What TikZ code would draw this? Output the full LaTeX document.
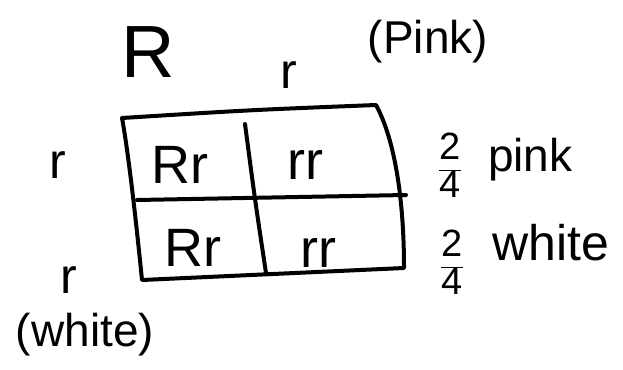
\documentclass[tikz,border=0pt]{standalone}
\usepackage{fontspec}
\setmainfont{Liberation Sans}
\tikzset{
  gridline/.style={line width=4pt, line cap=round, line join=round},
  bigallele/.style={font=\fontsize{74}{74}\selectfont, inner sep=0pt},
  allele/.style={font=\fontsize{50}{50}\selectfont, inner sep=0pt},
  cell/.style={font=\fontsize{54}{54}\selectfont, inner sep=0pt},
  note/.style={font=\fontsize{46}{46}\selectfont, inner sep=0pt},
  ratio/.style={font=\fontsize{38}{38}\selectfont, inner sep=0pt},
}
\begin{document}
\begin{tikzpicture}[x=1pt,y=-1pt]
  \useasboundingbox (0,0) rectangle (623,369);
  % square corners and divider ends
  \coordinate (tl) at (122,118);
  \coordinate (tr) at (376,105);
  \coordinate (br) at (404,268);
  \coordinate (bl) at (142,280);
  \coordinate (ml) at (137,200);
  \coordinate (mr) at (406,195);
  \coordinate (mt) at (245,124);
  \coordinate (mb) at (266,273);
  \draw[gridline] (tl) .. controls (250,110) .. (tr)
    .. controls (395,140) and (404,200) .. (br) -- (bl)
    .. controls (136,220) and (128,150) .. (tl);
  \draw[gridline] (ml) -- (mr);
  \draw[gridline] (mt) .. controls (255,200) .. (mb);
  % parent alleles
  \node[bigallele] (R1) at (148,52) {R};
  \node[allele] (r1) at (289,75) {r};
  \node[note] (pink1) at (428,42) {(Pink)};
  \node[allele] (r2) at (58,165) {r};
  \node[allele] (r3) at (69,280) {r};
  \node[note] (white1) at (85,335) {(white)};
  % offspring
  \node[cell] (c11) at (180,165) {Rr};
  \node[cell] (c12) at (305,165) {rr};
  \node[cell] (c21) at (193,248) {Rr};
  \node[cell] (c22) at (318,253) {rr};
  % ratios
  \node[ratio] (f1) at (450,165) {\(\displaystyle\frac{\mbox{2}}{\mbox{4}}\)};
  \node[note, anchor=west] (pink2) at (488,160) {pink};
  \node[ratio] (f2) at (452,262) {\(\displaystyle\frac{\mbox{2}}{\mbox{4}}\)};
  \node[note, anchor=west, font=\fontsize{50}{50}\selectfont] (white2) at (492,243) {white};
\end{tikzpicture}
\end{document}
